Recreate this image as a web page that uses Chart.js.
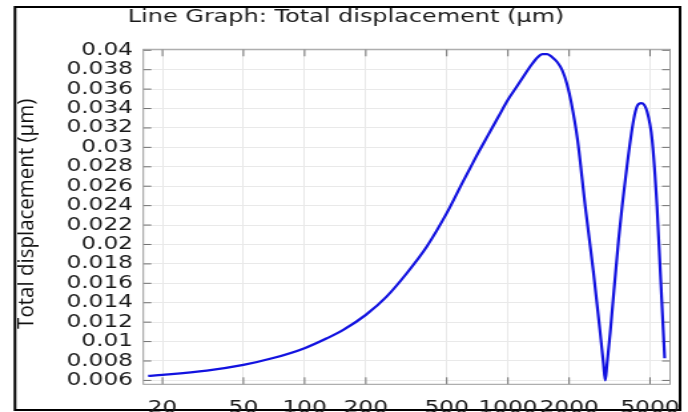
<!DOCTYPE html>
<html>
<head>
<meta charset="utf-8">
<script src="https://cdn.jsdelivr.net/npm/chart.js@4.4.1/dist/chart.umd.min.js"></script>
<style>
  html, body { margin: 0; padding: 0; background: #ffffff; overflow: hidden; }
  #wrap { width: 517px; height: 412px; transform: scaleX(1.33075); transform-origin: 0 0; }
  canvas { display: block; }
</style>
</head>
<body>
<div id="wrap"><canvas id="c" width="517" height="412"></canvas></div>
<script>
// ---- data ----
const freq = [17, 20, 33, 50, 70, 100, 129, 155, 200, 253, 318, 399, 500, 600, 700, 800, 900, 1000, 1100, 1186, 1300, 1400, 1480, 1560, 1650, 1750, 1850, 1950, 2050, 2200, 2400, 2636, 2844, 2950, 3010, 3070, 3183, 3500, 3847, 4150, 4330, 4530, 4835, 5120, 5410, 5620, 5900];
const disp = [0.00646, 0.00657, 0.00701, 0.0076, 0.0083, 0.00932, 0.01035, 0.0112, 0.01275, 0.01463, 0.01704, 0.01979, 0.02323, 0.02645, 0.0291, 0.03128, 0.0332, 0.0349, 0.03619, 0.03722, 0.03845, 0.03928, 0.03961, 0.03961, 0.03928, 0.03876, 0.03794, 0.03655, 0.03459, 0.03078, 0.02391, 0.01705, 0.01086, 0.00774, 0.0060, 0.00761, 0.01086, 0.02048, 0.02803, 0.03284, 0.0343, 0.03456, 0.03369, 0.03078, 0.02391, 0.01705, 0.00829];
const xTicks = [20, 50, 100, 200, 500, 1000, 2000, 5000];
const yTicks = [0.006, 0.008, 0.01, 0.012, 0.014, 0.016, 0.018, 0.02, 0.022, 0.024, 0.026, 0.028, 0.03, 0.032, 0.034, 0.036, 0.038, 0.04];
const titleText = 'Line Graph: Total displacement (µm)';
const yTitleText = 'Total displacement (µm)';

const S = 688 / 517; // horizontal stretch of the reference picture

const framePlugin = {
  id: 'frame',
  beforeDraw(chart) {
    const ctx = chart.ctx;
    ctx.save();
    ctx.fillStyle = '#ffffff';
    ctx.fillRect(0, 0, chart.width, chart.height);
    ctx.strokeStyle = '#000000';
    ctx.lineWidth = 2;
    ctx.strokeRect(15 / S, 7, (680 - 15) / S, 403);
    ctx.restore();
  }
};

const boxTicksPlugin = {
  id: 'boxTicks',
  beforeDatasetsDraw(chart) {
    const { ctx, chartArea: a, scales: { x, y } } = chart;
    ctx.save();
    ctx.strokeStyle = '#707070';
    ctx.lineWidth = 1;
    ctx.beginPath();
    x.ticks.forEach(t => {
      const px = x.getPixelForValue(t.value);
      ctx.moveTo(px, a.bottom); ctx.lineTo(px, a.bottom - 7);
      ctx.moveTo(px, a.top); ctx.lineTo(px, a.top + 7);
    });
    y.ticks.forEach(t => {
      const py = y.getPixelForValue(t.value);
      ctx.moveTo(a.left, py); ctx.lineTo(a.left + 6, py);
      ctx.moveTo(a.right, py); ctx.lineTo(a.right - 6, py);
    });
    ctx.stroke();
    ctx.strokeStyle = '#9a9a9a';
    ctx.strokeRect(a.left, a.top, a.right - a.left, a.bottom - a.top);
    ctx.restore();
  }
};

const yTitlePlugin = {
  id: 'yTitle',
  afterDraw(chart) {
    const { ctx, chartArea: a } = chart;
    ctx.save();
    ctx.translate(33 / S, (a.top + a.bottom) / 2 - 3);
    ctx.scale(1 / S, 1);
    ctx.rotate(-Math.PI / 2);
    ctx.font = '20.5px "Open Sans"';
    ctx.fillStyle = '#111111';
    ctx.textAlign = 'center';
    ctx.textBaseline = 'alphabetic';
    ctx.fillText(yTitleText, 0, 0);
    ctx.restore();
  }
};

new Chart(document.getElementById('c'), {
  type: 'line',
  data: {
    datasets: [{
      data: freq.map((f, i) => ({ x: f, y: disp[i] })),
      borderColor: '#1212e0',
      borderWidth: 2.2,
      pointRadius: 0,
      fill: false,
      cubicInterpolationMode: 'monotone'
    }]
  },
  options: {
    responsive: false,
    animation: false,
    devicePixelRatio: 1,
    layout: { padding: { left: 16.5, right: 13.5, top: 0, bottom: 0 }, autoPadding: false },
    plugins: {
      legend: { display: false },
      tooltip: { enabled: false },
      title: {
        display: true,
        text: titleText,
        color: '#1a1a1a',
        font: { family: '"DejaVu Sans"', size: 18, weight: 'normal' },
        padding: { top: 6.7, bottom: 21 }
      }
    },
    scales: {
      x: {
        type: 'logarithmic',
        min: 16.1,
        max: 6270,
        afterBuildTicks: s => { s.ticks = xTicks.map(v => ({ value: v })); },
        afterFit: s => { s.height = 27.7; s.paddingLeft = 0; s.paddingRight = 0; },
        grid: { color: '#e9e9e9', lineWidth: 1, drawTicks: false },
        border: { display: false },
        ticks: {
          autoSkip: false, maxRotation: 0, minRotation: 0, padding: 13.3,
          color: '#1a1a1a',
          font: { family: '"DejaVu Sans"', size: 17.5 },
          callback: v => String(v)
        }
      },
      y: {
        type: 'linear',
        min: 0.0056,
        max: 0.0401,
        afterBuildTicks: s => { s.ticks = yTicks.map(v => ({ value: v })); },
        afterFit: s => { s.width = 91.2; s.paddingTop = 0; s.paddingBottom = 0; },
        grid: { color: '#e9e9e9', lineWidth: 1, drawTicks: false },
        border: { display: false },
        ticks: {
          autoSkip: false,
          padding: 7.7,
          color: '#1a1a1a',
          font: { family: '"DejaVu Sans"', size: 17.5 },
          callback: v => String(Number(v.toFixed(3)))
        }
      }
    }
  },
  plugins: [framePlugin, boxTicksPlugin, yTitlePlugin]
});
</script>
</body>
</html>
